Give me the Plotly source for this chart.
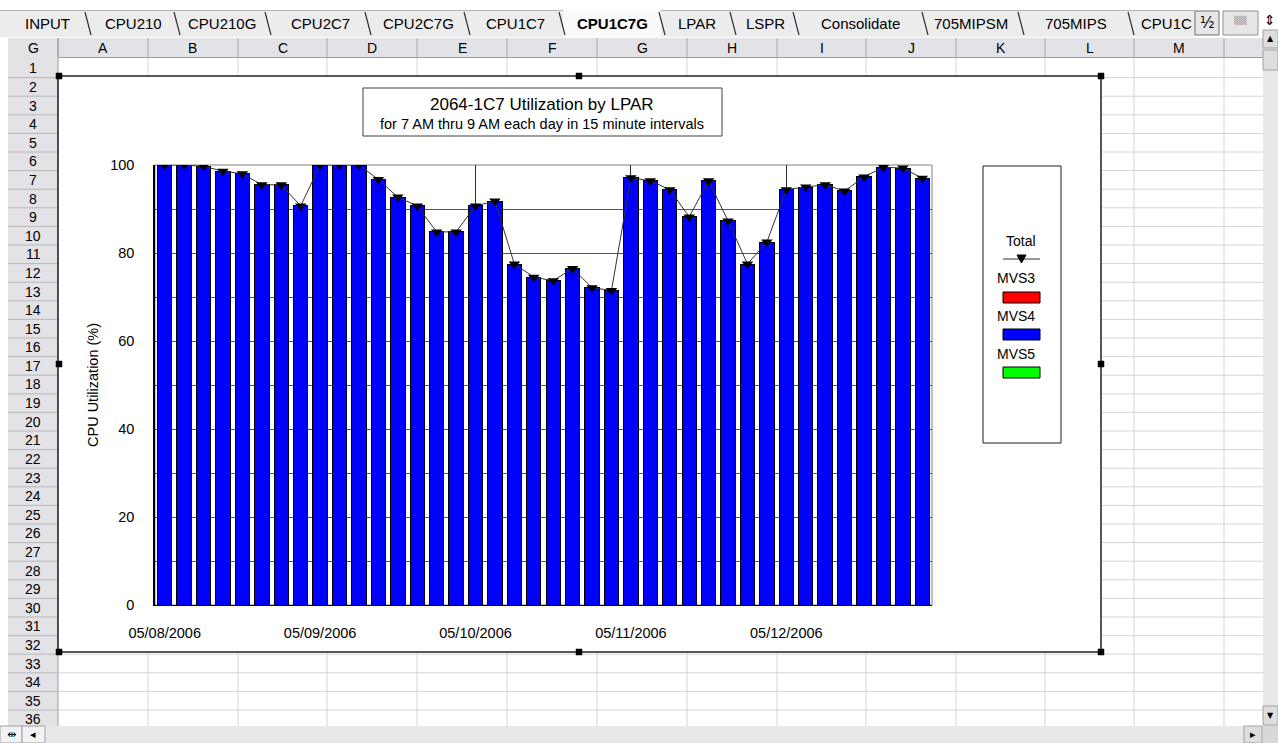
import plotly.graph_objects as go

# ---------------- data ----------------
days = ["05/08/2006", "05/09/2006", "05/10/2006", "05/11/2006", "05/12/2006"]
times = ["07:00", "07:15", "07:30", "07:45", "08:00", "08:15", "08:30", "08:45"]

mvs3 = [0, 0, 0, 0, 0, 0, 0, 0,
        0, 0, 0, 0, 0, 0, 0, 0,
        0, 0, 0, 0, 0, 0, 0, 0,
        0, 0, 0, 0, 0, 0, 0, 0,
        0, 0, 0, 0, 0, 0, 0, 0]
mvs4 = [100.0, 100.0, 99.7, 98.6, 98.0, 95.5, 95.5, 90.7,
        100.0, 100.0, 100.0, 96.7, 92.7, 90.7, 84.8, 84.8,
        90.7, 91.8, 77.5, 74.5, 73.7, 76.5, 72.1, 71.5,
        97.1, 96.4, 94.4, 88.2, 96.4, 87.3, 77.5, 82.5,
        94.4, 95.0, 95.5, 94.1, 97.3, 99.5, 99.3, 97.0]
mvs5 = [0, 0, 0, 0, 0, 0, 0, 0,
        0, 0, 0, 0, 0, 0, 0, 0,
        0, 0, 0, 0, 0, 0, 0, 0,
        0, 0, 0, 0, 0, 0, 0, 0,
        0, 0, 0, 0, 0, 0, 0, 0]
y_ticks = [0, 20, 40, 60, 80, 100]

categories = [f"{d} {t}" for d in days for t in times]
total = [a + b + c for a, b, c in zip(mvs3, mvs4, mvs5)]

# ---------------- helpers (page pixel -> paper) ----------------
W, H = 1278, 743
FONT = "Arial, Liberation Sans, sans-serif"


def X(p):
    return p / W


def Y(p):
    return 1 - p / H


shapes = []
annots = []


def rect(x0, y0, x1, y1, fill=None, line=None, lw=1, layer="below"):
    shapes.append(dict(type="rect", xref="paper", yref="paper",
                       x0=X(x0), x1=X(x1), y0=Y(y1), y1=Y(y0),
                       fillcolor=fill if fill else "rgba(0,0,0,0)",
                       line=dict(color=line if line else "rgba(0,0,0,0)",
                                 width=lw if line else 0),
                       layer=layer))


def seg(x0, y0, x1, y1, color, lw=1, layer="below"):
    shapes.append(dict(type="line", xref="paper", yref="paper",
                       x0=X(x0), x1=X(x1), y0=Y(y0), y1=Y(y1),
                       line=dict(color=color, width=lw), layer=layer))


def text(x, y, s, size=15, color="black", xanchor="center", angle=0, family=FONT):
    annots.append(dict(xref="paper", yref="paper", x=X(x), y=Y(y), text=s,
                       showarrow=False, xanchor=xanchor, yanchor="middle",
                       textangle=angle,
                       font=dict(size=size, color=color, family=family)))


# ---------------- spreadsheet frame ----------------
HDR = "#e3e3e7"
GRID = "#d4d4d4"

# tab strip
rect(0, 10, 1195, 37, fill="#ececec")
seg(0, 10.5, 1195, 10.5, "#b4b4b4")
rect(563, 10, 661, 37, fill="#fafafa")
tab_names = ["INPUT", "CPU210", "CPU210G", "CPU2C7", "CPU2C7G", "CPU1C7", "<b>CPU1C7G</b>",
             "LPAR", "LSPR", "Consolidate", "705MIPSM", "705MIPS"]
tab_x = [47, 133, 222, 320, 418, 515, 612, 697, 765, 860, 971, 1076]
for nm, tx in zip(tab_names, tab_x):
    text(tx, 24, nm, size=15)
text(1139, 24, "CPU1C", size=15, xanchor="left")
for sx in [88, 177, 268, 368, 467, 562, 662, 733, 796, 925, 1021, 1131]:
    seg(sx - 3, 12, sx + 3, 35, "#303030", 1.2)
# tab buttons
rect(1195, 11, 1219, 35, fill="#e6e6e6", line="#707070")
text(1207, 23, "½", size=15, family="DejaVu Sans, sans-serif")
rect(1223, 11, 1258, 35, fill="#e6e6e6", line="#909090")
text(1240, 20, "▒▒", size=8, color="#9a9a9a", family="DejaVu Sans, sans-serif")
text(1270, 20, "⇕", size=14, family="DejaVu Sans, sans-serif")

# column header row
rect(8, 38, 1263, 57, fill=HDR)
seg(8, 57.5, 1263, 57.5, "#9c9c9c")
col_bounds = [58, 148, 238, 327, 417, 507, 597, 687, 777, 866, 956, 1045, 1134, 1224]
col_names = ["A", "B", "C", "D", "E", "F", "G", "H", "I", "J", "K", "L", "M"]
for cb in col_bounds:
    seg(cb, 38, cb, 57, "#a8a8a8")
for i, cn in enumerate(col_names):
    text((col_bounds[i] + col_bounds[i + 1]) / 2, 48, cn, size=14)
text(33, 48, "G", size=14)

# row header column
rect(8, 57, 58, 726, fill=HDR)
seg(58, 38, 58, 726, "#9c9c9c")
ROW0, RH = 59, 18.6
for n in range(1, 37):
    yb = ROW0 + n * RH
    if yb < 726:
        seg(8, yb, 58, yb, "#b8b8b8")
        seg(58, yb, 1263, yb, GRID)
    text(33, ROW0 + (n - 0.5) * RH, str(n), size=14)
for cb in col_bounds[1:]:
    seg(cb, 58, cb, 726, GRID)

# scrollbars
rect(1263, 30, 1278, 726, fill="#e8e8e8")
rect(1263, 30, 1278, 48, fill="#dedede", line="#a0a0a0")
text(1270.5, 39, "▲", size=8, family="DejaVu Sans, sans-serif")
rect(1263, 50, 1278, 70, fill="#dedede", line="#a0a0a0")
rect(1263, 706, 1278, 725, fill="#dedede", line="#a0a0a0")
text(1270.5, 715, "▼", size=8, family="DejaVu Sans, sans-serif")
rect(0, 726, 1263, 743, fill="#e8e8e8")
rect(0, 726, 22, 743, fill="#f2f2f2", line="#a0a0a0")
text(11, 734, "⇹", size=11, family="DejaVu Sans, sans-serif")
rect(22, 726, 45, 743, fill="#f2f2f2", line="#a0a0a0")
text(33, 734, "◂", size=11, family="DejaVu Sans, sans-serif")
rect(1244, 726, 1262, 743, fill="#dedede", line="#a0a0a0")
text(1253, 734, "▸", size=11, family="DejaVu Sans, sans-serif")
rect(1263, 726, 1278, 743, fill="#d8d8d8")

# ---------------- chart area ----------------
rect(58, 76, 1101, 652, fill="white", line="#202020", lw=1.5)
# chart title box
rect(363, 88, 722, 136, fill="white", line="#404040", lw=1)
text(542, 104, "2064-1C7 Utilization by LPAR", size=17)
text(542, 124, "for 7 AM thru 9 AM each day in 15 minute intervals", size=14.5)
# plot area frame
rect(155, 165, 932, 605, line="#808080", lw=1)
# y axis title
text(93, 385, "CPU Utilization (%)", size=14.5, angle=-90)

# legend box
rect(983, 166, 1061, 443, fill="white", line="#202020", lw=1)
text(1021, 241, "Total", size=14)
seg(1003, 259, 1040, 259, "#303030", 1)
shapes.append(dict(type="path", xref="paper", yref="paper",
                   path=f"M {X(1017)} {Y(255)} L {X(1026)} {Y(255)} L {X(1021.5)} {Y(263)} Z",
                   fillcolor="black", line=dict(color="black", width=1)))
legend_items = [("MVS3", "#ff0000", 278, 292), ("MVS4", "#0000ff", 316, 329), ("MVS5", "#00ff00", 354, 367)]
for nm, colr, ty, sy in legend_items:
    text(995, ty, nm, size=14, xanchor="left")
    rect(1003, sy, 1040, sy + 11, fill=colr, line="black", lw=1, layer="above")

# selection handles
for hx, hy in [(59, 76), (579, 76), (1101, 76), (59, 364), (1101, 364), (59, 652), (579, 652), (1101, 652)]:
    rect(hx - 3, hy - 3, hx + 3, hy + 3, fill="black", line="black", lw=0.5, layer="above")

# ---------------- traces ----------------
bar_line = dict(color="black", width=1)
fig = go.Figure()
fig.add_trace(go.Bar(x=categories, y=mvs3, name="MVS3",
                     marker=dict(color="#ff0000", line=bar_line)))
fig.add_trace(go.Bar(x=categories, y=mvs4, name="MVS4",
                     marker=dict(color="#0000ff", line=bar_line)))
fig.add_trace(go.Bar(x=categories, y=mvs5, name="MVS5",
                     marker=dict(color="#00ff00", line=bar_line)))
fig.add_trace(go.Scatter(x=categories, y=total, name="Total", mode="lines+markers",
                         line=dict(color="#333333", width=1),
                         marker=dict(symbol="triangle-down", size=10, color="black")))

fig.update_layout(
    width=W, height=H,
    margin=dict(l=0, r=0, t=0, b=0, pad=0, autoexpand=False),
    paper_bgcolor="white",
    plot_bgcolor="rgba(0,0,0,0)",
    barmode="stack",
    bargap=0.26,
    showlegend=False,
    font=dict(family=FONT, size=15, color="black"),
    shapes=shapes,
    annotations=annots,
    xaxis=dict(
        domain=[X(155), X(932)],
        type="category",
        range=[-0.5, len(categories) - 0.5],
        tickmode="array",
        tickvals=[f"{d} {times[0]}" for d in days],
        ticktext=days,
        ticks="outside", ticklen=15, tickcolor="rgba(0,0,0,0)",
        tickfont=dict(size=14.5),
        showgrid=True, gridcolor="#303030", gridwidth=1,
        showline=True, linecolor="black", linewidth=1,
        zeroline=False, automargin=False,
    ),
    yaxis=dict(
        domain=[Y(605), Y(165)],
        range=[0, 100],
        tickmode="array",
        tickvals=y_ticks,
        ticks="outside", ticklen=16, tickcolor="rgba(0,0,0,0)",
        tickfont=dict(size=14.5),
        showgrid=True, gridcolor="#555555", gridwidth=1,
        minor=dict(dtick=10, showgrid=True, gridcolor="#555555", gridwidth=1),
        showline=True, linecolor="black", linewidth=1.5,
        zeroline=False, automargin=False,
    ),
)

fig.write_html(
    "out.html",
    config={"displayModeBar": False},
    post_script="document.body.style.margin='0';document.body.style.overflow='hidden';",
)
